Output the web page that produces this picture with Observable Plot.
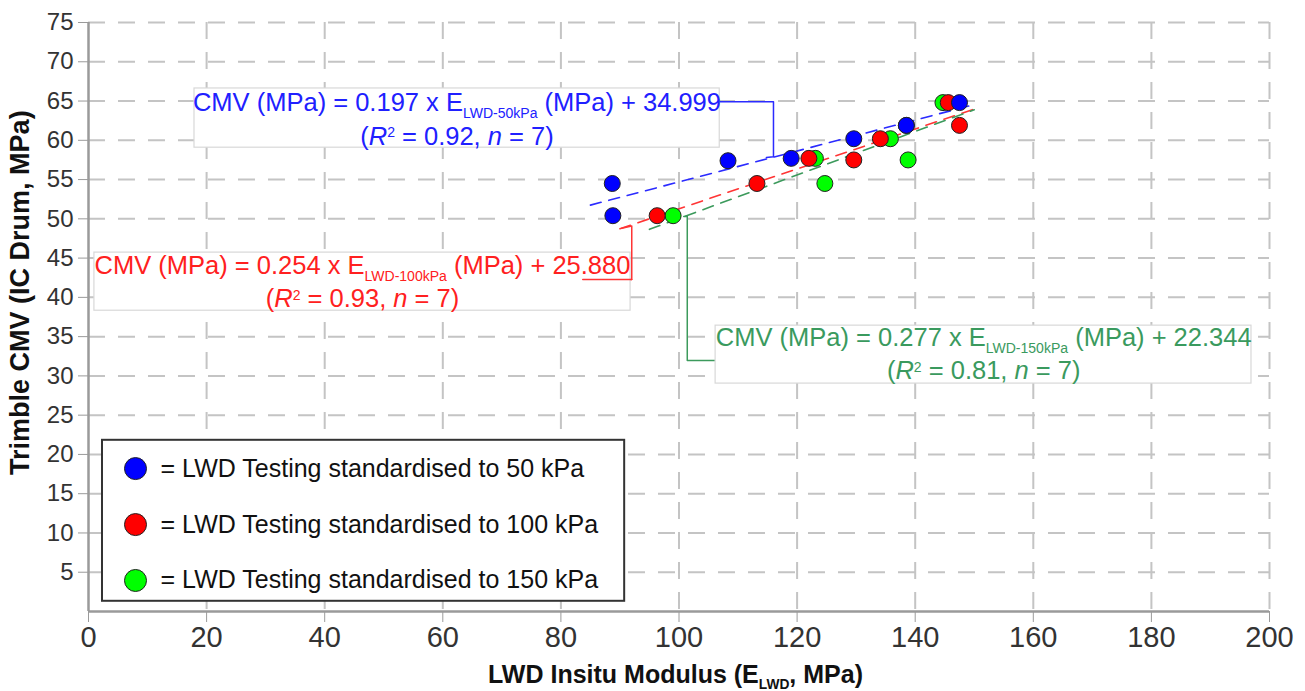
<!DOCTYPE html>
<html><head><meta charset="utf-8">
<script src="https://cdn.jsdelivr.net/npm/d3@7"></script>
<script src="https://cdn.jsdelivr.net/npm/@observablehq/plot@0.6"></script>
<style>body{margin:0;background:#fff;} svg{display:block}</style>
</head><body><div id="chart"></div>
<script>
// ---------- data ----------
const seriesNames = ["50 kPa", "100 kPa", "150 kPa"];
const lwd50  = [88.7, 88.8, 108.3, 119.0, 129.6, 138.5, 147.5];
const cmv50  = [54.5, 50.4, 57.4, 57.7, 60.2, 61.9, 64.8];
const lwd100 = [96.3, 113.2, 122.0, 129.6, 134.1, 145.6, 147.5];
const cmv100 = [50.4, 54.5, 57.7, 57.5, 60.2, 64.8, 61.9];
const lwd150 = [99.0, 124.7, 123.1, 135.8, 138.8, 144.7, 138.5];
const cmv150 = [50.4, 54.5, 57.7, 60.2, 57.5, 64.8, 61.9];
const fitSlope = [0.197, 0.254, 0.277];
const fitIntercept = [34.999, 25.880, 22.344];
const fitFrom = [85, 90, 95];
const fitTo = [150, 150, 150];
const eqLine1 = [
  "CMV (MPa) = 0.197 x E_[LWD-50kPa] (MPa) + 34.999",
  "CMV (MPa) = 0.254 x E_[LWD-100kPa] (MPa) + 25.880",
  "CMV (MPa) = 0.277 x E_[LWD-150kPa] (MPa) + 22.344"
];
const eqLine2 = [
  "(*[R]^[2] = 0.92, *[n] = 7)",
  "(*[R]^[2] = 0.93, *[n] = 7)",
  "(*[R]^[2] = 0.81, *[n] = 7)"
];
const legendLabels = [
  "= LWD Testing standardised to 50 kPa",
  "= LWD Testing standardised to 100 kPa",
  "= LWD Testing standardised to 150 kPa"
];
const xTicks = [0, 20, 40, 60, 80, 100, 120, 140, 160, 180, 200];
const yTicks = [5, 10, 15, 20, 25, 30, 35, 40, 45, 50, 55, 60, 65, 70, 75];
const xTitle = "LWD Insitu Modulus (E_[LWD], MPa)";
const yTitle = "Trimble CMV (IC Drum, MPa)";

// ---------- styles / layout ----------
const dotColor = ["#0000ff", "#ff0000", "#00ff00"];
const lineColor = ["#2b2bff", "#ff3535", "#3c9a5c"];
const textColor = ["#2020ff", "#ff2020", "#3a9a5e"];
const F = "'Liberation Sans', Arial, Helvetica, sans-serif";
const FN = "'Liberation Sans Narrow', 'Arial Narrow', 'Liberation Sans', sans-serif";
const EQ = 25.5;
// annotation boxes (data units)
const boxes = [
  {x1: 17.95, x2: 106.9, y1: 59.06, y2: 66.6, cx: 62.4, l1: 64.75, l2: 60.5},
  {x1: 1.0,  x2: 91.8,  y1: 38.3,  y2: 45.7, cx: 46.4, l1: 44.0, l2: 39.8},
  {x1: 106.2, x2: 196.95, y1: 29.02, y2: 36.4, cx: 151.6, l1: 34.8, l2: 30.6}
];
const leaders = [
  [[107.0, 64.9], [116.0, 64.9], [116.0, 57.9], [114.8, 57.8]],
  [[83.7, 42.26], [92.0, 42.26], [92.0, 49.1], [90.3, 48.8]],
  [[100.8, 50.3], [101.4, 50.3], [101.4, 31.95], [109.6, 31.95]]
];
const legendBox = {x1: 2.37, x2: 90.8, y1: 1.3, y2: 21.8};
const legendX = 7.96, legendTextX = 12.2;
const legendY = [18.2, 11.07, 3.95];

// ---------- build tables ----------
const lwd = [lwd50, lwd100, lwd150], cmv = [cmv50, cmv100, cmv150];
const drawOrder = [2, 1, 0];
const points = drawOrder.flatMap(i => lwd[i].map((x, j) => ({x, y: cmv[i][j], c: dotColor[i]})));
const fitLines = seriesNames.map((s, i) => [fitFrom[i], fitTo[i]].map(x => ({x, y: fitSlope[i] * x + fitIntercept[i]})));
const legendRows = legendLabels.map((t, i) => ({t, y: legendY[i], c: dotColor[i]}));

const marks = [
  Plot.gridX(xTicks.filter(d => d > 0), {stroke: "#c4c4c4", strokeOpacity: 1, strokeWidth: 2, strokeDasharray: "17,13"}),
  Plot.gridY(yTicks, {stroke: "#c4c4c4", strokeOpacity: 1, strokeWidth: 2, strokeDasharray: "17,13"}),
  ...fitLines.map((d, i) => Plot.line(d, {x: "x", y: "y", stroke: lineColor[i], strokeWidth: 1.6, strokeDasharray: "11,8"})),
  Plot.dot(points, {x: "x", y: "y", fill: "c", r: 8, stroke: "#222", strokeWidth: 1}),
  ...leaders.map((d, i) => Plot.line(d, {x: d => d[0], y: d => d[1], stroke: lineColor[i], strokeWidth: 1.5})),
  Plot.rect(boxes, {x1: "x1", x2: "x2", y1: "y1", y2: "y2", fill: "white", stroke: "#d8d8d8", strokeWidth: 1.2}),
  ...boxes.map((b, i) => Plot.text([eqLine1[i]], {x: b.cx, y: b.l1, text: d => d, fill: textColor[i], fontSize: EQ, fontFamily: F})),
  ...boxes.map((b, i) => Plot.text([eqLine2[i]], {x: b.cx, y: b.l2, text: d => d, fill: textColor[i], fontSize: EQ, fontFamily: F})),
  Plot.line(leaders[1].slice(0, 2), {x: d => d[0], y: d => d[1], stroke: lineColor[1], strokeWidth: 1.5}),
  // legend
  Plot.rect([legendBox], {x1: "x1", x2: "x2", y1: "y1", y2: "y2", fill: "white", stroke: "#333", strokeWidth: 2}),
  Plot.dot(legendRows, {x: legendX, y: "y", r: 11, fill: "c", stroke: "#222", strokeWidth: 1}),
  Plot.text(legendRows, {x: legendTextX, y: "y", text: "t", textAnchor: "start", fill: "#111", fontSize: 25, fontFamily: F}),
  // axes
  Plot.ruleY([0], {stroke: "#9a9a9a", strokeWidth: 2.5}),
  Plot.ruleX([0], {stroke: "#9a9a9a", strokeWidth: 2.5}),
  Plot.axisY(yTicks, {anchor: "left", tickSize: 10, tickPadding: 5, stroke: "#9a9a9a", fill: "#333", fontSize: 24, fontFamily: F, label: null}),
  Plot.axisX(xTicks, {anchor: "bottom", tickSize: 11, tickPadding: 4, stroke: "#9a9a9a", fill: "#333", fontSize: 29, fontFamily: FN, label: null}),
  Plot.text([xTitle], {x: 99.4, y: 0, dy: 63, text: d => d, fontSize: 25, fontWeight: "bold", fontFamily: F, fill: "#111"}),
  Plot.text([yTitle], {x: 0, y: 40.6, dx: -68, rotate: -90, text: d => d, fontSize: 27, fontWeight: "bold", fontFamily: F, fill: "#111"})
];

const chart = Plot.plot({
  width: 1305, height: 691,
  marginLeft: 88, marginRight: 36, marginTop: 22, marginBottom: 80,
  x: {domain: [0, 200]},
  y: {domain: [0, 75]},
  color: {type: "identity"},
  style: {background: "white", overflow: "visible"},
  marks
});

// rich text: _[sub], ^[sup], *[italic]
function richify(svg) {
  d3.select(svg).selectAll("text").each(function() {
    const el = this;
    const t = el.textContent;
    if (!/[_^*]\[/.test(t)) return;
    const fsAttr = el.closest("[font-size]");
    const fs = fsAttr ? parseFloat(fsAttr.getAttribute("font-size")) : 16;
    while (el.firstChild) el.removeChild(el.firstChild);
    const re = /([_^*])\[([^\]]*)\]/g;
    let last = 0, m, pending = 0;
    const add = (str, opts = {}) => {
      if (!str) return;
      const ts = document.createElementNS("http://www.w3.org/2000/svg", "tspan");
      ts.textContent = str;
      const dy = pending + (opts.dy || 0);
      if (dy) ts.setAttribute("dy", dy);
      pending = -(opts.dy || 0);
      if (opts.size) ts.setAttribute("font-size", opts.size);
      if (opts.italic) ts.setAttribute("font-style", "italic");
      el.appendChild(ts);
    };
    while ((m = re.exec(t))) {
      add(t.slice(last, m.index));
      if (m[1] === "_") add(m[2], {dy: fs * 0.26, size: fs * 0.55});
      else if (m[1] === "^") add(m[2], {dy: -fs * 0.28, size: fs * 0.55});
      else add(m[2], {italic: true});
      last = re.lastIndex;
    }
    add(t.slice(last));
  });
}
richify(chart);
document.getElementById("chart").appendChild(chart);
</script>
</body></html>
